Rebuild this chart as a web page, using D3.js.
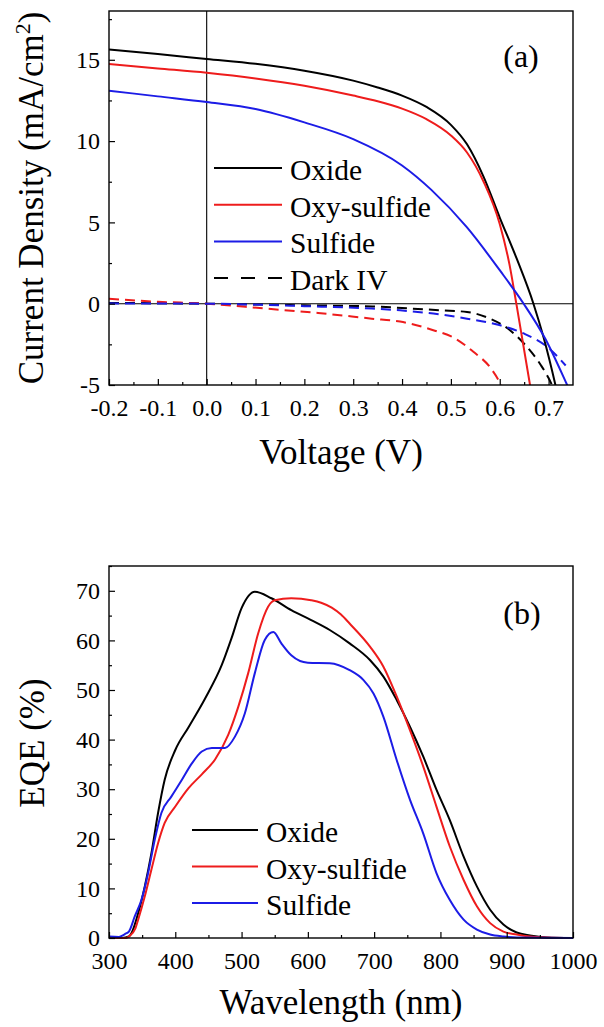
<!DOCTYPE html>
<html>
<head>
<meta charset="utf-8">
<script src="https://cdn.jsdelivr.net/npm/d3@7"></script>
<style>
    body { margin: 0; background: #fff; }
    text { font-family: "Liberation Serif", "Times New Roman", serif; fill: #000; }
</style>
</head>
<body>
<div id="plot"></div>
<script>
var width = 604;
var height = 1027;

// ---- panel (a): J-V curves ----
var oxideV = [-0.2, -0.1, 0, 0.1, 0.2, 0.3, 0.35, 0.4, 0.45, 0.5, 0.533, 0.567, 0.6, 0.635, 0.669, 0.69, 0.714, 0.73];
var oxideJ = [15.63, 15.35, 15.05, 14.75, 14.33, 13.72, 13.3, 12.8, 12.1, 11.0, 9.8, 7.8, 5.3, 2.75, 0, -2.1, -5, -7.2];

var oxySulfideV = [-0.2, -0.1, 0, 0.1, 0.2, 0.3, 0.35, 0.4, 0.45, 0.5, 0.533, 0.567, 0.6, 0.62, 0.634, 0.662, 0.67];
var oxySulfideJ = [14.74, 14.47, 14.2, 13.85, 13.4, 12.8, 12.45, 12.0, 11.35, 10.35, 9.3, 7.5, 4.9, 2.4, 0, -5, -6.5];

var sulfideV = [-0.2, -0.1, 0, 0.1, 0.2, 0.3, 0.4, 0.46, 0.533, 0.6, 0.649, 0.693, 0.738, 0.75];
var sulfideJ = [13.1, 12.75, 12.4, 11.97, 11.15, 10.12, 8.5, 7.0, 4.69, 2.06, 0, -2.14, -5, -5.8];

var darkOxideV = [-0.2, 0, 0.2, 0.34, 0.42, 0.48, 0.533, 0.58, 0.621, 0.649, 0.684, 0.7, 0.71];
var darkOxideJ = [0.05, 0, -0.1, -0.17, -0.3, -0.41, -0.51, -0.92, -1.63, -2.43, -3.77, -4.57, -5.2];

var darkOxySulfideV = [-0.2, -0.1, 0, 0.12, 0.228, 0.338, 0.396, 0.464, 0.505, 0.546, 0.582, 0.601, 0.61];
var darkOxySulfideJ = [0.3, 0.12, 0, -0.3, -0.57, -0.92, -1.1, -1.63, -2.08, -2.96, -3.98, -4.9, -5.5];

var darkSulfideV = [-0.2, 0, 0.2, 0.338, 0.396, 0.464, 0.533, 0.601, 0.649, 0.697, 0.735];
var darkSulfideJ = [0.02, 0, -0.15, -0.3, -0.41, -0.61, -0.92, -1.33, -1.83, -2.65, -3.8];

var voltageTicks = [-0.2, -0.1, 0, 0.1, 0.2, 0.3, 0.4, 0.5, 0.6, 0.7];
var voltageMinor = [-0.15, -0.05, 0.05, 0.15, 0.25, 0.35, 0.45, 0.55, 0.65];
var currentTicks = [-5, 0, 5, 10, 15];
var currentMinor = [-2.5, 2.5, 7.5, 12.5, 17.5];
var ivLegend = ['Oxide', 'Oxy-sulfide', 'Sulfide', 'Dark IV'];

// ---- panel (b): EQE ----
var oxideWl = [300, 320, 330, 334, 344, 354, 364, 374, 384, 400, 420, 445, 470, 485, 500, 520, 545, 575, 605, 633, 663, 694, 714, 734, 754, 774, 794, 814, 835, 855, 875, 895, 915, 935, 960, 1000];
var oxideEqe = [0, 0, 0.3, 1, 5, 10.4, 17.1, 25.2, 31.9, 37.9, 42.5, 48.3, 55, 60.5, 66.5, 69.8, 68.5, 66.1, 64.1, 62.1, 59.4, 56, 52.7, 48, 42.6, 36.6, 29.9, 23.8, 16.4, 10.4, 5.7, 2.7, 1.1, 0.5, 0.1, 0];

var oxySulfideWl = [300, 325, 330, 340, 344, 354, 364, 374, 384, 400, 420, 440, 460, 480, 495, 510, 525, 540, 550, 575, 605, 620, 636, 650, 663, 694, 714, 734, 754, 774, 794, 814, 835, 855, 875, 895, 915, 935, 960, 1000];
var oxySulfideEqe = [0, 0, 0.3, 2, 3.7, 8.4, 13.8, 19.1, 23.2, 26.5, 30.2, 33, 36, 41, 46.6, 53.4, 61.4, 66.8, 68.1, 68.5, 68.1, 67.6, 66.6, 65.2, 63.4, 58.7, 54.7, 48.7, 41.9, 34.6, 26.5, 18.5, 11.7, 6.4, 3, 1.3, 0.7, 0.3, 0.1, 0];

var sulfideWl = [300, 315, 320, 324, 330, 339, 349, 359, 369, 379, 394, 410, 425, 440, 455, 475, 490, 505, 520, 535, 548, 560, 575, 600, 633, 663, 684, 699, 714, 734, 754, 774, 794, 814, 835, 855, 875, 895, 915, 1000];
var sulfideEqe = [0.3, 0.2, 0.5, 0.8, 1.3, 4.4, 7.7, 13.1, 19.8, 25.2, 28.5, 31.9, 35.2, 37.6, 38.3, 38.3, 40.6, 45.3, 53.4, 60.1, 61.7, 59.4, 57, 55.5, 55.4, 54, 52, 49.3, 44.6, 35.9, 27.9, 21.1, 13.1, 7.7, 3.7, 1.7, 0.7, 0.3, 0.1, 0];

var wlTicks = [300, 400, 500, 600, 700, 800, 900, 1000];
var wlMinor = [350, 450, 550, 650, 750, 850, 950];
var eqeTicks = [0, 10, 20, 30, 40, 50, 60, 70];
var eqeMinor = [5, 15, 25, 35, 45, 55, 65, 75];
var eqeLegend = ['Oxide', 'Oxy-sulfide', 'Sulfide'];

var colors = ['#000000', '#ee1c1c', '#1c1ce6'];

var canvas = d3.select('#plot')
                .append('svg')
                .attr('width', width)
                .attr('height', height);

function zip(xs, ys) {
    return xs.map(function(x, i) { return { x: x, y: ys[i] }; });
}

function drawAxes(g, x_scale, y_scale, box, xt, xm, yt, ym, xfmt) {
    var xAxis = d3.axisBottom(x_scale).tickValues(xt).tickSize(-6).tickPadding(14).tickFormat(xfmt);
    var xMinor = d3.axisBottom(x_scale).tickValues(xm).tickSize(-3).tickFormat('');
    var yAxis = d3.axisLeft(y_scale).tickValues(yt).tickSize(-6).tickPadding(9).tickFormat(function(d) { return String(d); });
    var yMinor = d3.axisLeft(y_scale).tickValues(ym).tickSize(-3).tickFormat('');

    [[xAxis, 'x'], [xMinor, 'x'], [yAxis, 'y'], [yMinor, 'y']].forEach(function(a) {
        var ax = g.append('g')
            .attr('transform', a[1] == 'x' ? 'translate(0,' + box.bottom + ')' : 'translate(' + box.left + ',0)')
            .call(a[0]);
        ax.select('.domain').remove();
        ax.selectAll('line').attr('stroke', '#000').attr('stroke-width', 1.2);
        ax.selectAll('text')
            .style('font-family', '"Liberation Serif", "Times New Roman", serif')
            .style('font-size', '24px')
            .attr('fill', '#000');
    });

    g.append('rect')
        .attr('x', box.left)
        .attr('y', box.top)
        .attr('width', box.right - box.left)
        .attr('height', box.bottom - box.top)
        .attr('fill', 'none')
        .attr('stroke', '#000')
        .attr('stroke-width', 1.4);
}

function plotIV() {
    var box = { left: 109, right: 573, top: 11, bottom: 385 };
    var x_scale = d3.scaleLinear().domain([-0.2, 0.75]).range([box.left, box.right]);
    var y_scale = d3.scaleLinear().domain([-5, 18]).range([box.bottom, box.top]);
    var g = canvas.append('g');

    g.append('clipPath').attr('id', 'clipA')
        .append('rect')
        .attr('x', box.left).attr('y', box.top)
        .attr('width', box.right - box.left).attr('height', box.bottom - box.top);

    // zero lines
    g.append('line')
        .attr('x1', x_scale(0)).attr('x2', x_scale(0))
        .attr('y1', box.top).attr('y2', box.bottom)
        .attr('stroke', '#000').attr('stroke-width', 1.1);
    g.append('line')
        .attr('x1', box.left).attr('x2', box.right)
        .attr('y1', y_scale(0)).attr('y2', y_scale(0))
        .attr('stroke', '#000').attr('stroke-width', 1.1);

    var line = d3.line()
        .x(function(d) { return x_scale(d.x); })
        .y(function(d) { return y_scale(d.y); })
        .curve(d3.curveMonotoneX);

    var curves = [
        { pts: zip(darkOxideV, darkOxideJ), c: colors[0], dash: true },
        { pts: zip(darkOxySulfideV, darkOxySulfideJ), c: colors[1], dash: true },
        { pts: zip(darkSulfideV, darkSulfideJ), c: colors[2], dash: true },
        { pts: zip(oxideV, oxideJ), c: colors[0], dash: false },
        { pts: zip(oxySulfideV, oxySulfideJ), c: colors[1], dash: false },
        { pts: zip(sulfideV, sulfideJ), c: colors[2], dash: false }
    ];

    g.append('g').attr('clip-path', 'url(#clipA)')
        .selectAll('path')
        .data(curves)
        .enter()
        .append('path')
        .attr('d', function(d) { return line(d.pts); })
        .attr('fill', 'none')
        .attr('stroke', function(d) { return d.c; })
        .attr('stroke-width', 2)
        .attr('stroke-dasharray', function(d) { return d.dash ? '10,6' : null; });

    drawAxes(g, x_scale, y_scale, box, voltageTicks, voltageMinor, currentTicks, currentMinor,
             function(d) { return d.toFixed(1); });

    // legend
    var leg = g.selectAll('g.leg')
        .data(ivLegend)
        .enter()
        .append('g')
        .attr('class', 'leg')
        .attr('transform', function(d, i) { return 'translate(0,' + (168 + i * 36.7) + ')'; });
    leg.append('line')
        .attr('x1', 214).attr('x2', 282)
        .attr('stroke', function(d, i) { return i < 3 ? colors[i] : '#000'; })
        .attr('stroke-width', 2)
        .attr('stroke-dasharray', function(d, i) { return i == 3 ? '14,13' : null; });
    leg.append('text')
        .attr('x', 290).attr('y', 12)
        .style('font-size', '29.5px')
        .text(function(d) { return d; });

    g.append('text')
        .attr('x', 521).attr('y', 67)
        .attr('text-anchor', 'middle')
        .style('font-size', '32px')
        .text('(a)');

    g.append('text')
        .attr('x', (box.left + box.right) / 2).attr('y', 464)
        .attr('text-anchor', 'middle')
        .style('font-size', '35px')
        .text('Voltage (V)');

    var yt = g.append('text')
        .attr('transform', 'translate(43,198) rotate(-90)')
        .attr('text-anchor', 'middle')
        .style('font-size', '35px');
    yt.append('tspan').text('Current Density (mA/cm');
    yt.append('tspan').attr('dy', -13).style('font-size', '22px').text('2');
    yt.append('tspan').attr('dy', 13).text(')');
}

function plotEQE() {
    var box = { left: 109, right: 573, top: 566, bottom: 938 };
    var x_scale = d3.scaleLinear().domain([300, 1000]).range([box.left, box.right]);
    var y_scale = d3.scaleLinear().domain([0, 75]).range([box.bottom, box.top]);
    var g = canvas.append('g');

    var line = d3.line()
        .x(function(d) { return x_scale(d.x); })
        .y(function(d) { return y_scale(d.y); })
        .curve(d3.curveMonotoneX);

    var curves = [
        { pts: zip(oxideWl, oxideEqe), c: colors[0] },
        { pts: zip(oxySulfideWl, oxySulfideEqe), c: colors[1] },
        { pts: zip(sulfideWl, sulfideEqe), c: colors[2] }
    ];

    g.selectAll('path.eqe')
        .data(curves)
        .enter()
        .append('path')
        .attr('class', 'eqe')
        .attr('d', function(d) { return line(d.pts); })
        .attr('fill', 'none')
        .attr('stroke', function(d) { return d.c; })
        .attr('stroke-width', 2);

    drawAxes(g, x_scale, y_scale, box, wlTicks, wlMinor, eqeTicks, eqeMinor,
             function(d) { return String(d); });

    var leg = g.selectAll('g.leg')
        .data(eqeLegend)
        .enter()
        .append('g')
        .attr('class', 'leg')
        .attr('transform', function(d, i) { return 'translate(0,' + (830 + i * 36.5) + ')'; });
    leg.append('line')
        .attr('x1', 192).attr('x2', 258)
        .attr('stroke', function(d, i) { return colors[i]; })
        .attr('stroke-width', 2);
    leg.append('text')
        .attr('x', 266).attr('y', 12)
        .style('font-size', '29.5px')
        .text(function(d) { return d; });

    g.append('text')
        .attr('x', 522).attr('y', 624)
        .attr('text-anchor', 'middle')
        .style('font-size', '32px')
        .text('(b)');

    g.append('text')
        .attr('x', (box.left + box.right) / 2).attr('y', 1014)
        .attr('text-anchor', 'middle')
        .style('font-size', '35px')
        .text('Wavelength (nm)');

    g.append('text')
        .attr('transform', 'translate(44,743) rotate(-90)')
        .attr('text-anchor', 'middle')
        .style('font-size', '35px')
        .text('EQE (%)');
}

plotIV();
plotEQE();
</script>
</body>
</html>
